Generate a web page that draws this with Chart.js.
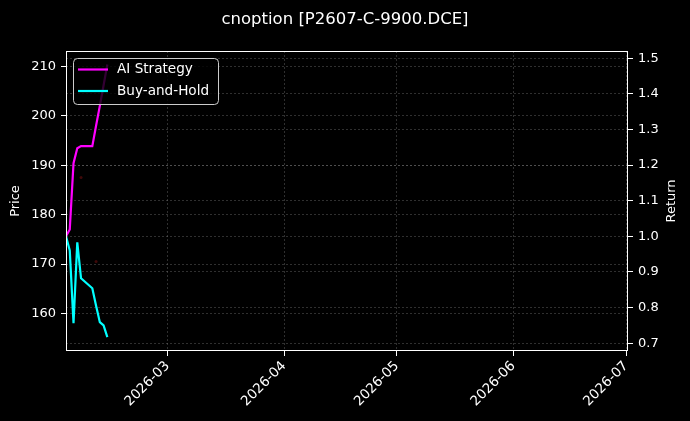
<!DOCTYPE html>
<html>
<head>
    <title>cnoption [P2607-C-9900.DCE]</title>
    <script src="https://cdn.jsdelivr.net/npm/chart.js"></script>
    <style>
        body {
            background-color: #000;
            margin: 0;
            padding: 0;
        }
        #chart {
            display: block;
        }
    </style>
</head>
<body>
    <canvas id="chart" width="690" height="421"></canvas>

    <script>
        // trading days shown in the picture
        const dates = ['2026-02-02', '2026-02-03', '2026-02-04', '2026-02-05', '2026-02-06',
                       '2026-02-09', '2026-02-10', '2026-02-11', '2026-02-12', '2026-02-13'];
        const aiStrategy = [1.0, 1.019, 1.205, 1.247, 1.253, 1.253, 1.31, 1.366, 1.424, 1.482];
        const buyAndHold = [1.0, 0.96, 0.756, 0.983, 0.882, 0.854, 0.805, 0.759, 0.75, 0.717];

        // faint markers on the price axis
        const signalDates = ['2026-02-06', '2026-02-10'];
        const signalPrices = [187.5, 170.5];

        const monthTicks = ['2026-03-01', '2026-04-01', '2026-05-01', '2026-06-01', '2026-07-01'];
        const monthLabels = ['2026-03', '2026-04', '2026-05', '2026-06', '2026-07'];
        const priceTicks = [160, 170, 180, 190, 200, 210];
        const returnTicks = [0.7, 0.8, 0.9, 1.0, 1.1, 1.2, 1.3, 1.4, 1.5];

        const xStart = '2026-02-02';
        const xEnd = '2026-07-01';

        const FONT = 'DejaVu Sans';
        const gridColor = 'rgba(150, 150, 150, 0.45)';

        // days since epoch
        function day(s) {
            return Date.parse(s + 'T00:00:00Z') / 86400000;
        }

        function toPoints(xs, ys) {
            return xs.map((d, i) => ({ x: day(d), y: ys[i] }));
        }

        const monthValues = monthTicks.map(day);

        const frameAndText = {
            id: 'frameAndText',
            afterDatasetsDraw(chart) {
                const c = chart.ctx;
                const a = chart.chartArea;
                c.save();
                // spines
                c.strokeStyle = '#ffffff';
                c.lineWidth = 1;
                c.strokeRect(a.left + 0.5, a.top + 0.5, a.right - a.left - 1, a.bottom - a.top - 1);

                // legend box
                const lx = a.left + 7, ly = a.top + 7, lw = 145, lh = 46;
                c.beginPath();
                c.roundRect(lx + 0.5, ly + 0.5, lw, lh, 4);
                c.fillStyle = 'rgba(0, 0, 0, 0.8)';
                c.fill();
                c.strokeStyle = '#cccccc';
                c.stroke();

                const items = [
                    { label: 'AI Strategy', color: '#ff00ff' },
                    { label: 'Buy-and-Hold', color: '#00ffff' }
                ];
                c.font = '13.6px "' + FONT + '"';
                c.textBaseline = 'middle';
                c.textAlign = 'left';
                items.forEach((it, i) => {
                    const y = ly + 11.5 + i * 21.5;
                    c.beginPath();
                    c.moveTo(lx + 5, y);
                    c.lineTo(lx + 35, y);
                    c.strokeStyle = it.color;
                    c.lineWidth = 2.2;
                    c.stroke();
                    c.fillStyle = '#ffffff';
                    c.fillText(it.label, lx + 44, y);
                });

                // axis titles
                const midY = (a.top + a.bottom) / 2;
                c.font = '13px "' + FONT + '"';
                c.textAlign = 'center';
                c.fillStyle = '#ffffff';
                c.translate(16, midY);
                c.rotate(-Math.PI / 2);
                c.fillText('Price', 0, 0);
                c.rotate(Math.PI / 2);
                c.translate(-16, -midY);
                c.translate(672, midY);
                c.rotate(-Math.PI / 2);
                c.fillText('Return', 0, 0);
                c.restore();
            }
        };

        const ctx = document.getElementById('chart').getContext('2d');
        new Chart(ctx, {
            type: 'line',
            data: {
                datasets: [{
                    label: 'AI Strategy',
                    data: toPoints(dates, aiStrategy),
                    borderColor: '#ff00ff',
                    borderWidth: 2.2,
                    pointRadius: 0,
                    tension: 0,
                    yAxisID: 'yReturn'
                }, {
                    label: 'Buy-and-Hold',
                    data: toPoints(dates, buyAndHold),
                    borderColor: '#00ffff',
                    borderWidth: 2.2,
                    pointRadius: 0,
                    tension: 0,
                    yAxisID: 'yReturn'
                }, {
                    label: 'Signals',
                    data: toPoints(signalDates, signalPrices),
                    showLine: false,
                    pointRadius: 1.5,
                    pointBorderWidth: 0,
                    pointBackgroundColor: 'rgba(140, 20, 20, 0.45)',
                    yAxisID: 'yPrice'
                }]
            },
            options: {
                responsive: false,
                animation: false,
                layout: { padding: 0 },
                plugins: {
                    legend: { display: false },
                    tooltip: { enabled: false },
                    title: {
                        display: true,
                        text: 'cnoption [P2607-C-9900.DCE]',
                        color: '#ffffff',
                        font: { family: FONT, size: 16.5, weight: 'normal' },
                        padding: { top: 10, bottom: 21.2 }
                    }
                },
                scales: {
                    x: {
                        type: 'linear',
                        min: day(xStart),
                        max: day(xEnd) + 0.5,
                        afterBuildTicks: s => { s.ticks = monthValues.map(v => ({ value: v })); },
                        afterFit: s => { s.height = 70; },
                        ticks: {
                            autoSkip: false,
                            minRotation: 45,
                            maxRotation: 45,
                            padding: 2,
                            color: '#ffffff',
                            font: { family: FONT, size: 13.6 },
                            callback: v => monthLabels[monthValues.indexOf(v)]
                        },
                        grid: {
                            color: gridColor,
                            lineWidth: 0.7,
                            tickColor: '#ffffff',
                            tickLength: 5,
                            tickWidth: 1
                        },
                        border: { display: false, dash: [2, 2] }
                    },
                    yPrice: {
                        position: 'left',
                        min: 152.4,
                        max: 213.1,
                        afterBuildTicks: s => { s.ticks = priceTicks.map(v => ({ value: v })); },
                        afterFit: s => { s.width = 66; },
                        ticks: {
                            padding: 5,
                            color: '#ffffff',
                            font: { family: FONT, size: 13 },
                            callback: v => String(v)
                        },
                        grid: {
                            color: gridColor,
                            lineWidth: 0.7,
                            tickColor: '#ffffff',
                            tickLength: 5,
                            tickWidth: 1
                        },
                        border: { display: false, dash: [2, 2] }
                    },
                    yReturn: {
                        position: 'right',
                        min: 0.678,
                        max: 1.52,
                        afterBuildTicks: s => { s.ticks = returnTicks.map(v => ({ value: v })); },
                        afterFit: s => { s.width = 62; },
                        ticks: {
                            padding: 5,
                            color: '#ffffff',
                            font: { family: FONT, size: 13 },
                            callback: v => v.toFixed(1)
                        },
                        grid: {
                            color: gridColor,
                            lineWidth: 0.7,
                            tickColor: '#ffffff',
                            tickLength: 5,
                            tickWidth: 1
                        },
                        border: { display: false, dash: [2, 2] }
                    }
                }
            },
            plugins: [frameAndText]
        });
    </script>
</body>
</html>
